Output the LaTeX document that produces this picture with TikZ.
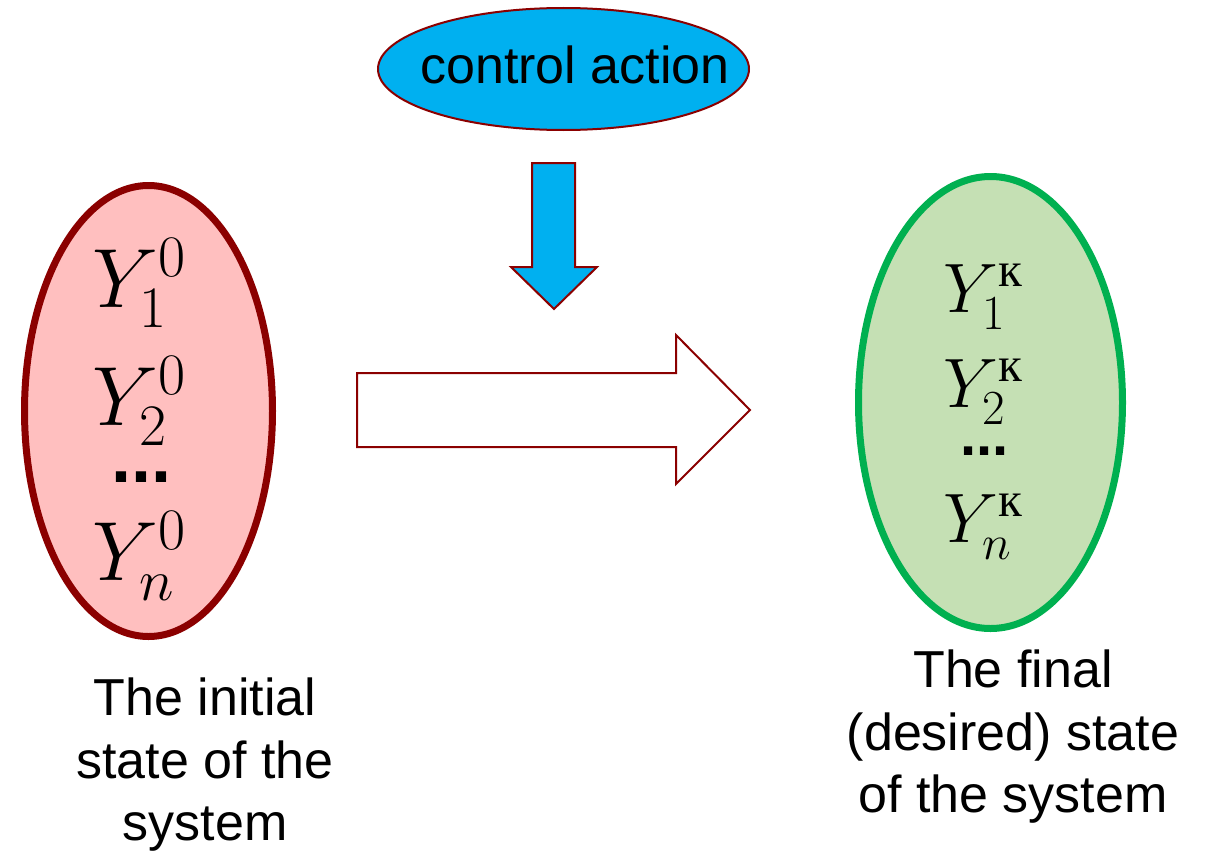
\RequirePackage{fix-cm}
\documentclass[tikz,border=0pt]{standalone}
\usepackage{amsmath}
\usepackage{fontspec}
\setmainfont{Liberation Sans}
\newfontfamily\cyrfont{Liberation Serif}
\usetikzlibrary{shapes.geometric}
\definecolor{darkred}{RGB}{139,0,0}
\definecolor{pinkfill}{RGB}{255,191,191}
\definecolor{greenfill}{RGB}{197,224,180}
\definecolor{greenline}{RGB}{0,176,80}
\definecolor{cyanfill}{RGB}{0,176,240}
\tikzset{
  stateell/.style={ellipse, line width=7pt, inner sep=0pt},
  bigmath/.style={anchor=base west, inner sep=0pt, font=\fontsize{84}{100}\selectfont},
  smallmath/.style={anchor=base west, inner sep=0pt, font=\fontsize{70}{84}\selectfont},
  caption/.style={anchor=north, inner sep=0pt, align=center, font=\fontsize{52}{62.5}\selectfont},
  blockarrow/.style={draw=darkred, line width=2pt, line join=miter}
}
\newcommand{\kk}{\text{\cyrfont к}}
\begin{document}
\begin{tikzpicture}[x=1pt,y=-1pt]
\useasboundingbox (0,0) rectangle (1207,851);
% control action
\node[ellipse, draw=darkred, fill=cyanfill, line width=2pt, minimum width=371pt, minimum height=122pt, inner sep=0pt] (ctrl) at (563.5,69) {};
\node[anchor=base, inner sep=0pt, font=\fontsize{52}{62}\selectfont] (ctrltext) at (575,84) {control action};
% down arrow
\draw[blockarrow, fill=cyanfill] (532,163) coordinate (dtop) -- (575,163) -- (575,267) -- (597,267) -- (554,309) coordinate (dtip) -- (511,267) -- (532,267) -- cycle;
% big right arrow
\draw[blockarrow, fill=white] (357,373) -- (676,373) -- (676,335) -- (750,410) coordinate (rtip) -- (676,484) -- (676,447) -- (357,447) -- cycle;
% initial state
\node[stateell, draw=darkred, fill=pinkfill, minimum width=248pt, minimum height=451pt] (init) at (148.5,411) {};
\node[bigmath] (i1) at (92,307) {$Y_1^0$};
\node[bigmath] (i2) at (92,425) {$Y_2^0$};
\node[anchor=base west, inner sep=0pt, font=\fontsize{72}{80}\selectfont\bfseries] (idots) at (111,482) {...};
\node[bigmath] (in) at (92,580) {$Y_n^0$};
% final state
\node[stateell, draw=greenline, fill=greenfill, minimum width=264pt, minimum height=452pt] (final) at (990.5,402.5) {};
\node[smallmath] (f1) at (943,312) {$Y_1^{\kk}$};
\node[smallmath] (f2) at (943,407) {$Y_2^{\kk}$};
\node[anchor=base west, inner sep=0pt, font=\fontsize{58}{66}\selectfont\bfseries] (fdots) at (960,455) {...};
\node[smallmath] (fn) at (943,542) {$Y_n^{\kk}$};
% captions
\node[caption] (initcap) at (205,678) {The initial\\state of the\\system};
\node[caption] (finalcap) at (1013,650) {The final\\(desired) state\\of the system};
\end{tikzpicture}
\end{document}
